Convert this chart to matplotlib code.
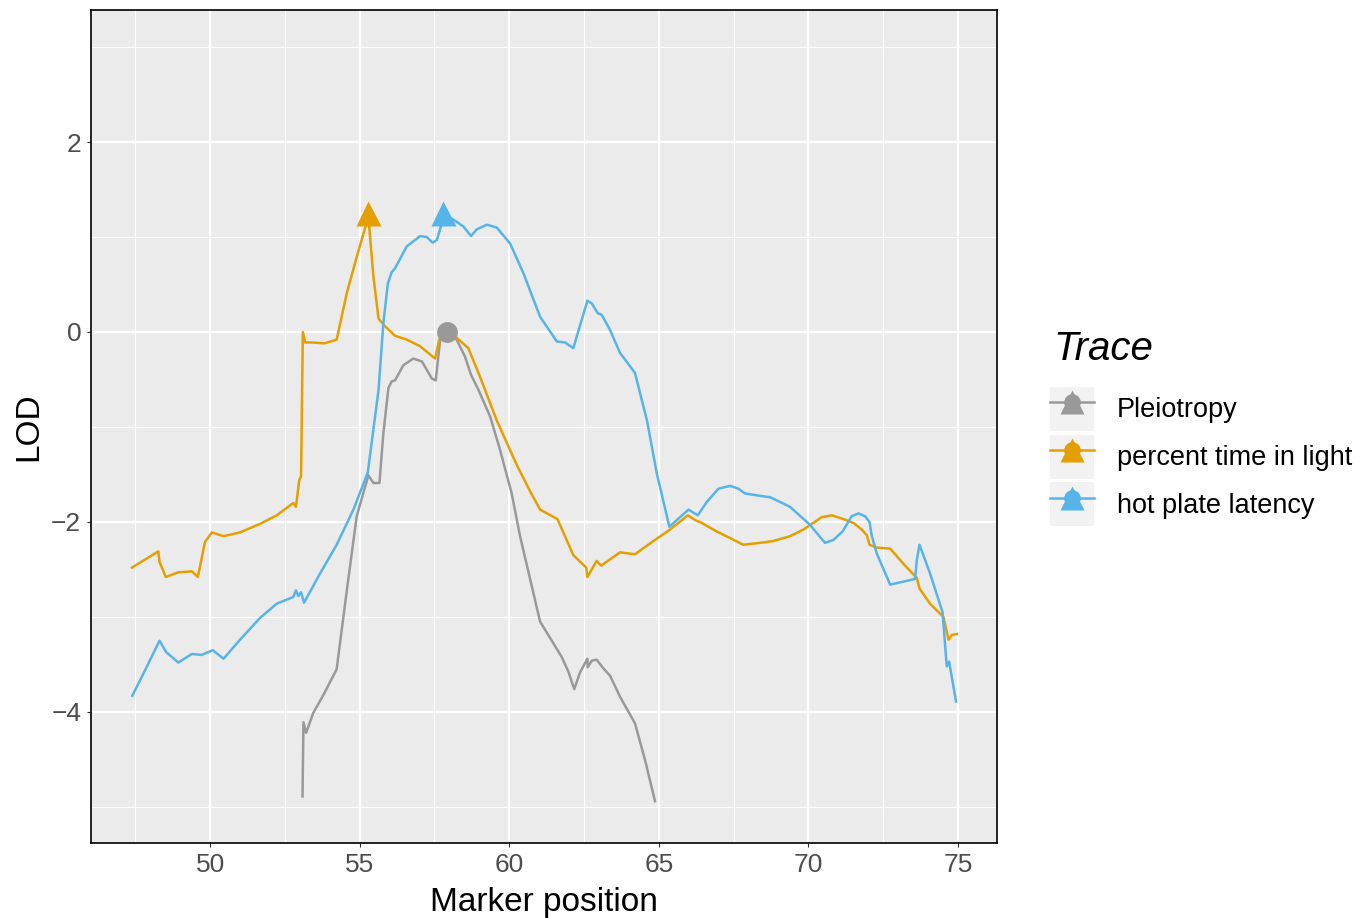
import matplotlib
matplotlib.use("Agg")
import matplotlib.pyplot as plt
from matplotlib.lines import Line2D
from matplotlib.patches import Rectangle
from matplotlib.legend_handler import HandlerTuple
from matplotlib.ticker import MultipleLocator

plt.rcParams['font.family'] = ['Liberation Sans', 'DejaVu Sans']

# LOD traces
light_x = [47.39, 48.27, 48.31, 48.52, 48.94, 49.39, 49.59, 49.83, 50.06, 50.45,
           51.0, 51.67, 52.23, 52.78, 52.87, 52.98, 53.04, 53.10, 53.18, 53.4,
           53.82, 54.23, 54.57, 54.9, 55.24, 55.28, 55.46, 55.63, 55.85, 56.18,
           56.57, 57.02, 57.52, 57.66, 57.91, 58.24, 58.63, 59.02, 59.58, 60.25,
           60.7, 61.03, 61.61, 62.14, 62.57, 62.61, 62.92, 63.07, 63.70, 64.20,
           64.82, 65.37, 65.97, 66.21, 66.43, 66.93, 67.38, 67.82, 68.38, 68.83,
           69.38, 69.83, 70.16, 70.44, 70.78, 71.17, 71.5, 71.78, 71.95, 72.04,
           72.28, 72.73, 73.17, 73.62, 73.71, 74.06, 74.51, 74.68, 74.79, 74.96]
light_y = [-2.48, -2.31, -2.42, -2.58, -2.53, -2.52, -2.58, -2.21, -2.11, -2.15,
           -2.11, -2.02, -1.93, -1.80, -1.84, -1.56, -1.52, 0.0, -0.11, -0.11,
           -0.12, -0.08, 0.41, 0.79, 1.16, 1.25, 0.58, 0.14, 0.06, -0.04,
           -0.08, -0.15, -0.28, -0.08, 0.0, -0.06, -0.17, -0.47, -0.93, -1.40,
           -1.68, -1.87, -1.97, -2.35, -2.48, -2.58, -2.41, -2.46, -2.32, -2.34,
           -2.20, -2.08, -1.93, -1.98, -2.01, -2.10, -2.17, -2.24, -2.22, -2.20,
           -2.15, -2.08, -2.01, -1.95, -1.93, -1.97, -2.01, -2.08, -2.14, -2.24,
           -2.27, -2.28, -2.44, -2.59, -2.70, -2.86, -3.0, -3.24, -3.19, -3.18]

hot_x = [47.40, 47.83, 48.31, 48.53, 48.94, 49.39, 49.72, 50.09, 50.45, 51.0,
         51.67, 52.23, 52.78, 52.87, 52.95, 53.04, 53.14, 53.68, 54.23, 54.79,
         55.27, 55.63, 55.79, 55.94, 56.07, 56.18, 56.57, 57.02, 57.24, 57.44,
         57.58, 57.74, 57.80, 58.24, 58.47, 58.72, 58.91, 59.25, 59.58, 60.03,
         60.47, 61.03, 61.59, 61.86, 62.14, 62.61, 62.76, 62.95, 63.09, 63.37,
         63.70, 64.20, 64.60, 64.93, 65.35, 65.99, 66.30, 66.60, 66.99, 67.38,
         67.66, 67.88, 68.27, 68.72, 69.38, 70.05, 70.55, 70.83, 71.14, 71.44,
         71.67, 71.89, 72.04, 72.11, 72.28, 72.73, 73.56, 73.62, 73.71, 74.06,
         74.48, 74.62, 74.70, 74.93]
hot_y = [-3.83, -3.56, -3.25, -3.37, -3.48, -3.39, -3.40, -3.35, -3.44, -3.24,
         -3.01, -2.86, -2.79, -2.72, -2.78, -2.74, -2.85, -2.54, -2.24, -1.87,
         -1.48, -0.61, 0.09, 0.51, 0.63, 0.67, 0.90, 1.01, 1.00, 0.94,
         0.97, 1.14, 1.25, 1.16, 1.11, 1.01, 1.08, 1.13, 1.10, 0.93,
         0.62, 0.16, -0.10, -0.11, -0.17, 0.33, 0.30, 0.20, 0.18, 0.02,
         -0.22, -0.43, -0.93, -1.49, -2.05, -1.87, -1.93, -1.79, -1.65, -1.62,
         -1.65, -1.70, -1.72, -1.74, -1.84, -2.03, -2.22, -2.19, -2.10, -1.94,
         -1.91, -1.94, -2.0, -2.14, -2.33, -2.66, -2.60, -2.40, -2.24, -2.54,
         -2.95, -3.52, -3.47, -3.89]

pleio_x = [53.09, 53.12, 53.21, 53.45, 53.79, 54.23, 54.57, 54.90, 55.29, 55.46,
           55.66, 55.79, 55.96, 56.07, 56.18, 56.46, 56.79, 57.08, 57.41, 57.54,
           57.69, 57.92, 58.24, 58.52, 58.72, 58.97, 59.36, 59.69, 60.08, 60.36,
           61.03, 61.75, 61.98, 62.17, 62.37, 62.61, 62.62, 62.76, 62.92, 63.14,
           63.37, 63.70, 64.20, 64.54, 64.87]
pleio_y = [-4.89, -4.11, -4.22, -4.01, -3.82, -3.55, -2.72, -1.94, -1.51, -1.59,
           -1.59, -1.07, -0.59, -0.52, -0.51, -0.35, -0.28, -0.31, -0.49, -0.51,
           -0.08, 0.0, -0.08, -0.26, -0.45, -0.61, -0.89, -1.24, -1.70, -2.15,
           -3.05, -3.42, -3.58, -3.76, -3.58, -3.44, -3.53, -3.46, -3.45, -3.54,
           -3.62, -3.84, -4.12, -4.51, -4.94]

# peak markers
peak_light = (55.28, 1.25)
peak_hot = (57.80, 1.25)
peak_pleio = (57.92, 0.0)

labels = ['Pleiotropy', 'percent time in light', 'hot plate latency']
colors = ['#999999', '#E69F00', '#56B4E9']

fig = plt.figure(figsize=(13.7, 9.18), dpi=100)
ax = fig.add_axes([91/1370, 75/918, 906/1370, 833/918])
ax.set_facecolor('#EBEBEB')

ax.plot(pleio_x, pleio_y, color=colors[0], lw=1.8, zorder=3)
ax.plot(light_x, light_y, color=colors[1], lw=1.8, zorder=3)
ax.plot(hot_x, hot_y, color=colors[2], lw=1.8, zorder=3)

ax.plot(*peak_pleio, 'o', color=colors[0], ms=15, mec='none', zorder=4)
ax.plot(*peak_light, '^', color=colors[1], ms=18, mec='none', zorder=4)
ax.plot(*peak_hot, '^', color=colors[2], ms=18, mec='none', zorder=4)

ax.set_xlim(46.02, 76.3)
ax.set_ylim(-5.38, 3.39)
ax.xaxis.set_major_locator(MultipleLocator(5))
ax.xaxis.set_minor_locator(MultipleLocator(2.5))
ax.yaxis.set_major_locator(MultipleLocator(2))
ax.yaxis.set_minor_locator(MultipleLocator(1))
ax.grid(which='major', color='white', lw=1.6)
ax.grid(which='minor', color='white', lw=0.8)
ax.set_axisbelow(True)
ax.tick_params(which='major', length=3, width=0.8, color='#333333',
               labelsize=19, labelcolor='#4D4D4D', pad=4)
ax.tick_params(which='minor', length=0)
for s in ax.spines.values():
    s.set_color('black')
    s.set_linewidth(1.2)

ax.set_xlabel('Marker position', fontsize=24, labelpad=7.5)
ax.set_ylabel('LOD', fontsize=24, labelpad=5)

# legend
handles = []
for i, c in enumerate(colors):
    bg = Rectangle((0, 0), 1, 1, facecolor='#F2F2F2', edgecolor='none')
    tri = Line2D([], [], color=c, lw=1.8, marker='^', ms=17, mec='none')
    dot = Line2D([], [], color=c, lw=0, marker='o', ms=12, mec='none')
    handles.append((bg, tri, dot))
leg = ax.legend(handles, labels, handler_map={tuple: HandlerTuple(ndivide=1, pad=0)},
                loc='upper left', bbox_to_anchor=(1050/1370, 1 - 387/918),
                bbox_transform=fig.transFigure, frameon=False, fontsize=19.5,
                handlelength=1.62, handleheight=2.12, labelspacing=0.137,
                handletextpad=0.85, borderpad=0, borderaxespad=0)
fig.text(1053/1370, 1 - 360/918, 'Trace', fontsize=29, style='italic',
         ha='left', va='baseline')

fig.savefig('out.png', dpi=100)
